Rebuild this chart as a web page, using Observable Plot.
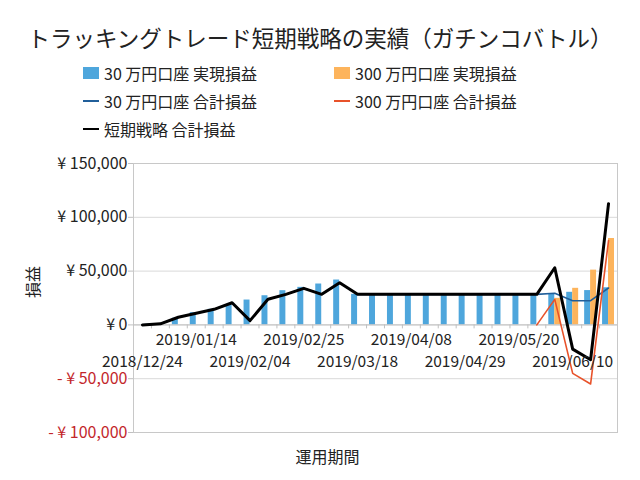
<!DOCTYPE html>
<html>
<head>
<meta charset="utf-8">
<script src="https://cdn.jsdelivr.net/npm/d3@7"></script>
<script src="https://cdn.jsdelivr.net/npm/@observablehq/plot@0.6"></script>
<style>
  body { margin: 0; background: #fff; }
  #wrap { position: relative; width: 640px; height: 480px; font-family: "Noto Sans CJK JP", "Noto Sans", sans-serif; color: #222; overflow: hidden; }
  #title { position: absolute; left: 0; top: 24px; width: 640px; text-align: center; font-size: 22.5px; line-height: 26px; }
  .lg { position: absolute; font-size: 16px; line-height: 20px; white-space: nowrap; color: #222; }
  .sw { position: absolute; }
  #chart { position: absolute; left: 0; top: 145px; }
</style>
</head>
<body>
<div id="wrap">
  <div id="title">トラッキングトレード短期戦略の実績（ガチンコバトル）</div>
  <div id="legend"></div>
  <div id="chart"></div>
</div>
<script>
// ---- data ----
const dates = [
  "2018/12/24","2018/12/31","2019/01/07","2019/01/14","2019/01/21","2019/01/28",
  "2019/02/04","2019/02/11","2019/02/18","2019/02/25","2019/03/04","2019/03/11",
  "2019/03/18","2019/03/25","2019/04/01","2019/04/08","2019/04/15","2019/04/22",
  "2019/04/29","2019/05/06","2019/05/13","2019/05/20","2019/05/27","2019/06/03",
  "2019/06/10","2019/06/17","2019/06/24"
];
const labelsUpper = ["2019/01/14","2019/02/25","2019/04/08","2019/05/20"];
const labelsLower = ["2018/12/24","2019/02/04","2019/03/18","2019/04/29","2019/06/10"];
const yTicks = [-100000, -50000, 0, 50000, 100000, 150000];

// 30万円口座 実現損益 (bars)
const real30 = [null, null, 6200, 11400, 14500, 18500, 23100, 27100, 31800, 34900, 38000, 41700,
  28400, 28400, 28400, 28400, 28400, 28400, 28400, 28400, 28400, 28400, 28400, 28800, 30300, 31900, 34500];
// 300万円口座 実現損益 (bars)
const real300 = [null, null, null, null, null, null, null, null, null, null, null, null,
  null, null, null, null, null, null, null, null, null, null, null, 24700, 34000, 50900, 80300];
// 30万円口座 合計損益 (line)
const total30 = [0, 1000, 7100, 10800, 14500, 20600, 4000, 23800, 28400, 34000, 28400, 39200,
  28400, 28400, 28400, 28400, 28400, 28400, 28400, 28400, 28400, 28400, 28400, 29400, 22500, 22500, 34300];
// 300万円口座 合計損益 (line)
const total300 = [null, null, null, null, null, null, null, null, null, null, null, null,
  null, null, null, null, null, null, null, null, null, null, 0, 23700, -45000, -54900, 78400];
// 短期戦略 合計損益 (line)
const totalAll = [0, 1000, 7100, 10800, 14500, 20600, 4000, 23800, 28400, 34000, 28400, 39200,
  28400, 28400, 28400, 28400, 28400, 28400, 28400, 28400, 28400, 28400, 28400, 53100, -22500, -32400, 112700];

const legendLabels = ["30 万円口座 実現損益", "300 万円口座 実現損益", "30 万円口座 合計損益", "300 万円口座 合計損益", "短期戦略 合計損益"];
const legendKinds = ["bar", "bar", "line", "line", "line"];
const legendColors = ["#4EA6DC", "#FDB45C", "#215F9A", "#E8522A", "#000000"];

// ---- legend ----
const colX = [83, 334];
const rowY = [73, 101, 129];
const legend = document.getElementById("legend");
legendLabels.forEach((lab, i) => {
  const col = i % 2, row = Math.floor(i / 2);
  const cx = colX[col], cy = rowY[row];
  const sw = document.createElement("div");
  sw.className = "sw";
  if (legendKinds[i] === "bar") {
    Object.assign(sw.style, {left: cx + "px", top: (cy - 6) + "px", width: "16px", height: "12px", background: legendColors[i]});
  } else {
    Object.assign(sw.style, {left: cx + "px", top: (cy - 1) + "px", width: "16px", height: "2px", background: legendColors[i]});
  }
  legend.appendChild(sw);
  const t = document.createElement("div");
  t.className = "lg";
  t.textContent = lab;
  Object.assign(t.style, {left: (cx + 21) + "px", top: (cy - 10) + "px"});
  legend.appendChild(t);
});

// ---- table ----
const rows = dates.map((d, i) => ({date: d, real30: real30[i], real300: real300[i], total30: total30[i], total300: total300[i], totalAll: totalAll[i]}));

const fmt = d3.format(",");
const yFmt = d => d === 0 ? "¥ 0" : d < 0 ? "- ¥ " + fmt(-d) : "¥ " + fmt(d);
const plotW = 640 - 133 - 23;
const bw = plotW / dates.length;

const chart = Plot.plot({
  width: 640,
  height: 335,
  marginTop: 18,
  marginBottom: 48,
  marginLeft: 133,
  marginRight: 23,
  x: {type: "band", domain: dates, padding: 0, round: false, axis: null},
  y: {domain: [-100000, 150000], axis: null},
  style: {fontFamily: "'Noto Sans CJK JP', 'Noto Sans', sans-serif", background: "white", overflow: "visible"},
  marks: [
    Plot.ruleY(yTicks, {y: d => d, stroke: "#d9d9d9", strokeWidth: 1}),
    Plot.frame({stroke: "#c8c8c8"}),
    Plot.ruleY(yTicks, {y: d => d, insetLeft: -5, insetRight: plotW, stroke: "#c0c0c0"}),
    Plot.barY(rows.filter(r => r.real30 != null), {x: "date", y: "real30", fill: "#4EA6DC", insetLeft: 3, insetRight: bw / 2}),
    Plot.barY(rows.filter(r => r.real300 != null), {x: "date", y: "real300", fill: "#FDB45C", insetLeft: bw / 2, insetRight: 3}),
    Plot.ruleY([0], {stroke: "#c0c0c0"}),
    Plot.ruleX(dates.slice(1), {x: d => d, y1: 0, y2: -3700, dx: -bw / 2, stroke: "#c0c0c0"}),
    Plot.line(rows, {x: "date", y: "total30", stroke: "#215F9A", strokeWidth: 1.6}),
    Plot.line(rows, {x: "date", y: "total300", stroke: "#E8522A", strokeWidth: 1.6}),
    Plot.line(rows, {x: "date", y: "totalAll", stroke: "#000", strokeWidth: 3}),
    Plot.text(yTicks.filter(d => d >= 0), {y: d => d, frameAnchor: "left", textAnchor: "end", dx: -6, text: yFmt, fontSize: 16, fill: "#222"}),
    Plot.text(yTicks.filter(d => d < 0), {y: d => d, frameAnchor: "left", textAnchor: "end", dx: -6, text: yFmt, fontSize: 16, fill: "#C3262B"}),
    Plot.text(labelsUpper, {x: d => d, y: 0, dy: 15, fontSize: 15.5, fill: "#222"}),
    Plot.text(labelsLower, {x: d => d, y: 0, dy: 37, fontSize: 15.5, fill: "#222"}),
    Plot.text(["損益"], {frameAnchor: "left", dx: -100, rotate: -90, fontSize: 16, fill: "#222"}),
    Plot.text(["運用期間"], {frameAnchor: "bottom", dx: -48, dy: 30, fontSize: 16, fill: "#222"})
  ]
});
document.getElementById("chart").appendChild(chart);
</script>
</body>
</html>
